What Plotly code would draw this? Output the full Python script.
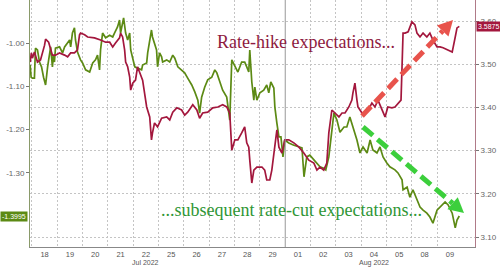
import numpy as np
import plotly.graph_objects as go

# ---- data ----
day_labels = ["18", "19", "20", "21", "22", "25", "26", "27", "28", "29",
              "01", "02", "03", "04", "05", "08", "09"]
month_labels = ["Jul 2022", "Aug 2022"]
month_label_day = [4, 13]  # index into day_labels

# trading-session position (day index + fraction of session)
red_t = [-0.07, -0.02, 0.02, 0.10, 0.22, 0.34, 0.50, 0.54, 0.66, 0.74, 0.81, 0.93, 1.09, 1.29, 1.41,
         1.53, 1.68, 1.80, 1.88, 1.92, 2.08, 2.20, 2.47, 2.71, 2.91, 3.07, 3.19, 3.30, 3.46, 3.50,
         3.58, 3.66, 3.70, 3.78, 3.86, 3.90, 3.98, 4.09, 4.17, 4.37, 4.53, 4.65, 4.72, 4.76, 4.84,
         4.96, 5.12, 5.32, 5.44, 5.56, 5.72, 5.91, 6.03, 6.15, 6.35, 6.51, 6.62, 6.74, 6.94, 7.14,
         7.34, 7.53, 7.69, 7.81, 7.89, 8.01, 8.13, 8.28, 8.40, 8.48, 8.56, 8.60, 8.68, 8.76, 8.88,
         9.08, 9.19, 9.27, 9.39, 9.47, 9.59, 9.67, 9.75, 9.87, 9.98, 10.14, 10.34, 10.54, 10.74,
         10.93, 11.13, 11.25, 11.37, 11.52, 11.64, 11.72, 11.84, 11.96, 12.12, 12.24, 12.36, 12.51,
         12.63, 12.67, 12.75, 12.83, 12.87, 13.03, 13.23, 13.42, 13.54, 13.66, 13.82, 13.94, 14.05,
         14.21, 14.33, 14.45, 14.57, 14.61, 14.65, 14.73, 14.85, 15.00, 15.12, 15.20, 15.32, 15.44,
         15.59, 15.71, 15.83, 15.99, 16.11, 16.23, 16.43, 16.59, 16.71, 16.78, 16.87]
red_v = [3.505, 3.526, 3.514, 3.528, 3.505, 3.510, 3.544, 3.558, 3.551, 3.533, 3.521, 3.521, 3.526,
         3.521, 3.517, 3.526, 3.526, 3.533, 3.568, 3.572, 3.568, 3.563, 3.561, 3.556, 3.551, 3.551,
         3.540, 3.549, 3.561, 3.572, 3.563, 3.533, 3.505, 3.494, 3.470, 3.440, 3.456, 3.463, 3.494,
         3.463, 3.401, 3.378, 3.325, 3.341, 3.364, 3.355, 3.375, 3.378, 3.371, 3.389, 3.399, 3.394,
         3.382, 3.389, 3.406, 3.394, 3.375, 3.387, 3.389, 3.399, 3.401, 3.406, 3.401, 3.387, 3.301,
         3.325, 3.325, 3.341, 3.355, 3.318, 3.308, 3.278, 3.225, 3.255, 3.262, 3.262, 3.255, 3.232,
         3.232, 3.255, 3.308, 3.348, 3.308, 3.294, 3.325, 3.325, 3.318, 3.308, 3.294, 3.278, 3.271,
         3.255, 3.262, 3.255, 3.271, 3.341, 3.394, 3.387, 3.378, 3.387, 3.387, 3.401, 3.417, 3.433,
         3.456, 3.417, 3.401, 3.387, 3.389, 3.410, 3.401, 3.417, 3.394, 3.378, 3.401, 3.399, 3.401,
         3.410, 3.417, 3.494, 3.572, 3.572, 3.575, 3.598, 3.591, 3.572, 3.563, 3.572, 3.563, 3.572,
         3.556, 3.540, 3.540, 3.538, 3.533, 3.528, 3.563, 3.584, 3.5875]

green_t = [-0.07, -0.03, 0.02, 0.10, 0.14, 0.22, 0.30, 0.38, 0.46, 0.54, 0.62, 0.70, 0.74, 0.81, 0.85,
           0.89, 0.93, 1.09, 1.21, 1.29, 1.41, 1.49, 1.53, 1.60, 1.68, 1.72, 1.80, 1.92, 2.00, 2.12,
           2.28, 2.40, 2.51, 2.59, 2.67, 2.71, 2.79, 2.91, 3.07, 3.19, 3.26, 3.38, 3.46, 3.50, 3.62,
           3.70, 3.78, 3.86, 3.90, 4.06, 4.17, 4.33, 4.37, 4.53, 4.57, 4.65, 4.72, 4.76, 4.84, 4.92,
           4.96, 5.04, 5.12, 5.16, 5.32, 5.44, 5.56, 5.64, 5.76, 5.91, 6.03, 6.15, 6.31, 6.43, 6.55,
           6.62, 6.70, 6.82, 6.94, 7.10, 7.22, 7.30, 7.42, 7.53, 7.69, 7.81, 7.89, 8.01, 8.13, 8.28,
           8.40, 8.48, 8.56, 8.60, 8.68, 8.76, 8.80, 8.88, 9.00, 9.15, 9.27, 9.35, 9.43, 9.55, 9.59,
           9.67, 9.75, 9.83, 9.91, 9.98, 10.14, 10.34, 10.54, 10.66, 10.74, 10.85, 10.97, 11.13,
           11.25, 11.37, 11.52, 11.60, 11.72, 11.84, 11.92, 12.04, 12.16, 12.32, 12.43, 12.55, 12.67,
           12.83, 12.95, 13.07, 13.23, 13.35, 13.46, 13.62, 13.74, 13.86, 14.01, 14.13, 14.33, 14.45,
           14.61, 14.65, 14.81, 14.92, 15.04, 15.20, 15.32, 15.44, 15.59, 15.71, 15.83, 15.99, 16.11,
           16.31, 16.43, 16.59, 16.71, 16.78, 16.87]
green_v = [-1.051, -1.079, -1.081, -1.081, -1.012, -1.016, -1.044, -1.055, -1.079, -1.097, -1.055,
           -1.021, -1.009, -1.055, -1.028, -1.044, -1.012, -1.009, -1.023, -1.009, -1.000, -0.993,
           -1.009, -0.977, -0.965, -0.993, -1.021, -1.039, -1.046, -1.062, -1.067, -1.046, -1.039,
           -1.028, -1.062, -1.016, -0.977, -0.988, -0.982, -0.986, -0.977, -0.963, -0.947, -0.977,
           -0.942, -0.977, -0.993, -0.977, -1.016, -1.055, -1.058, -1.062, -1.051, -1.046, -1.023,
           -0.993, -0.970, -0.986, -1.000, -1.016, -1.055, -1.023, -1.032, -1.044, -1.039, -1.044,
           -1.028, -1.035, -1.055, -1.062, -1.069, -1.081, -1.097, -1.113, -1.132, -1.162, -1.125,
           -1.102, -1.085, -1.079, -1.062, -1.069, -1.092, -1.109, -1.125, -1.178, -1.039, -1.055,
           -1.067, -1.044, -1.044, -1.055, -1.067, -1.016, -1.090, -1.132, -1.102, -1.132, -1.115,
           -1.109, -1.097, -1.115, -1.090, -1.104, -1.148, -1.185, -1.217, -1.217, -1.263, -1.224,
           -1.231, -1.236, -1.240, -1.242, -1.309, -1.263, -1.259, -1.270, -1.277, -1.286, -1.289,
           -1.293, -1.263, -1.194, -1.162, -1.178, -1.206, -1.194, -1.194, -1.171, -1.194, -1.224,
           -1.254, -1.240, -1.254, -1.224, -1.247, -1.254, -1.240, -1.263, -1.277, -1.286, -1.293,
           -1.300, -1.316, -1.339, -1.333, -1.356, -1.339, -1.363, -1.379, -1.386, -1.393, -1.402,
           -1.416, -1.386, -1.379, -1.367, -1.374, -1.393, -1.427, -1.409, -1.3995]

left_ticks = [-1.0, -1.1, -1.2, -1.3]
right_ticks = [3.1, 3.2, 3.3, 3.4, 3.5, 3.6]

RED = "#a3173d"
GREEN = "#5c8a14"
FONT = "Liberation Sans"

W, H = 500, 268
ML, MR, MT, MB = 30, 25, 0, 21
PW, PH = W - ML - MR, H - MT - MB


def paper(px, py):
    return (px - ML) / PW, 1 - (py - MT) / PH


fig = go.Figure()
fig.add_trace(go.Scatter(x=red_t, y=red_v, yaxis="y2", mode="lines",
                         line=dict(color=RED, width=1.7), hoverinfo="skip"))
fig.add_trace(go.Scatter(x=green_t, y=green_v, yaxis="y", mode="lines",
                         line=dict(color=GREEN, width=1.7), hoverinfo="skip"))

n = len(day_labels)
fig.update_layout(
    width=W, height=H, margin=dict(l=ML, r=MR, t=MT, b=MB),
    paper_bgcolor="white", plot_bgcolor="white", showlegend=False,
    font=dict(family=FONT, size=8, color="#555555"),
    xaxis=dict(range=[-0.075, 17.49], tickvals=[i + 0.5 for i in range(n)], ticktext=day_labels,
               showgrid=False, zeroline=False, showline=True, linecolor="#888888", linewidth=1,
               ticks="", tickfont=dict(size=7.5, color="#555555"),
               minor=dict(tickvals=[i for i in range(n) if i != 10], showgrid=True,
                          gridcolor="#c4c4c4", griddash="2px,2px", gridwidth=1, ticks="")),
    yaxis=dict(range=[-1.4711, -0.9007], tickvals=left_ticks, ticktext=["%.2f" % v for v in left_ticks],
               showgrid=False, zeroline=False, showline=True, linecolor="#8a9a6a", linewidth=1,
               ticks="outside", ticklen=3, tickcolor="#777777", tickfont=dict(size=8, color="#666666")),
    yaxis2=dict(range=[3.0769, 3.6486], overlaying="y", side="right", tickvals=right_ticks,
                ticktext=["%.2f" % v for v in right_ticks], showgrid=True, gridcolor="#c4c4c4",
                griddash="2px,2px", gridwidth=1, zeroline=False, showline=True, linecolor="#b07a88",
                linewidth=1, ticks="outside", ticklen=3, tickcolor="#777777",
                tickfont=dict(size=8, color="#666666")),
)

# month separator
fig.add_shape(type="line", xref="x", yref="paper", x0=10, x1=10, y0=0, y1=1,
              line=dict(color="#999999", width=1))

# month labels
for lab, d in zip(month_labels, month_label_day):
    fig.add_annotation(x=d + 0.5, xref="x", y=0, yref="paper", yanchor="top", yshift=-11,
                       text=lab, showarrow=False, borderpad=0,
                       font=dict(size=7, color="#555555"))


# dashed arrows
def dashed_arrow(start, tip, color):
    s = np.array(start, float)
    t = np.array(tip, float)
    d = (t - s) / np.linalg.norm(t - s)
    perp = np.array([-d[1], d[0]])
    base = t - 15 * d
    x0, y0 = paper(*s)
    x1, y1 = paper(*base)
    fig.add_shape(type="line", xref="paper", yref="paper", x0=x0, y0=y0, x1=x1, y1=y1,
                  line=dict(color=color, width=5, dash="13px,6px"))
    pts = [t, base + 8 * perp, base - 8 * perp]
    pp = [paper(*p) for p in pts]
    path = "M %f %f L %f %f L %f %f Z" % (pp[0][0], pp[0][1], pp[1][0], pp[1][1], pp[2][0], pp[2][1])
    fig.add_shape(type="path", xref="paper", yref="paper", path=path,
                  fillcolor=color, line=dict(color=color, width=0))


dashed_arrow((362, 116), (453, 20), "#e8534c")
dashed_arrow((363, 127), (464, 213), "#3ccf3c")

# text annotations
fig.add_annotation(x=paper(306, 0)[0], xref="paper", y=paper(0, 30)[1], yref="paper",
                   text="Rate-hike expectations...", showarrow=False,
                   font=dict(family="Liberation Serif", size=18, color="#8e1a40"))
fig.add_annotation(x=paper(291, 0)[0], xref="paper", y=paper(0, 222)[1], yref="paper",
                   text="...subsequent rate-cut expectations...", showarrow=False,
                   font=dict(family="Liberation Serif", size=18, color="#2f9636"))

# last value labels
fig.add_annotation(x=paper(0, 0)[0], xref="paper", xanchor="left", y=green_v[-1], yref="y",
                   text="%.4f" % green_v[-1], showarrow=False, bgcolor=GREEN, borderpad=1,
                   font=dict(size=7, color="white"))
fig.add_annotation(x=1, xref="paper", xanchor="left", xshift=1, y=red_v[-1], yref="y2",
                   text="%.4f" % red_v[-1], showarrow=False, bgcolor=RED, borderpad=1,
                   font=dict(size=7, color="white"))

fig.write_html("out.html", config={"displayModeBar": False})
